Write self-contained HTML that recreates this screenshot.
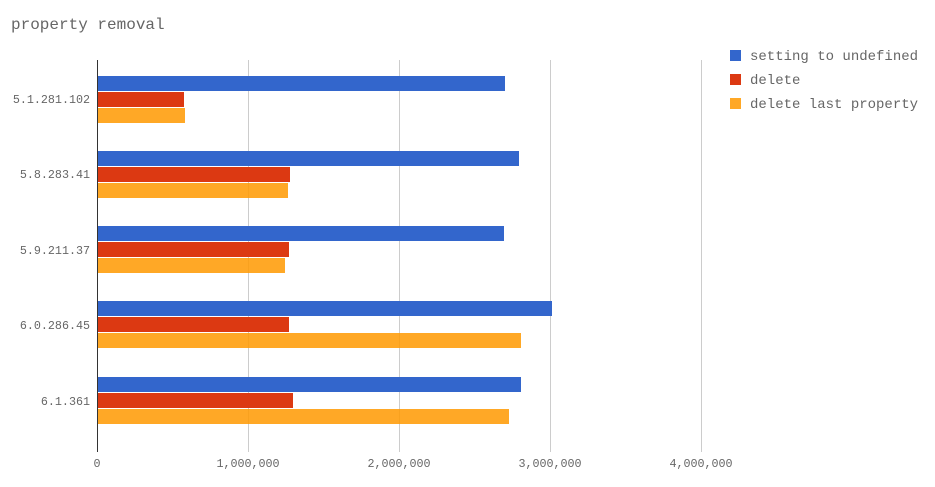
<!DOCTYPE html>
<html><head><style>body{margin:0;background:#fff}svg{display:block}text{font-family:"Liberation Mono",monospace;fill:#666}</style></head><body>
<svg width="935" height="487" xmlns="http://www.w3.org/2000/svg">
<text x="11" y="29" font-size="16" fill="#666">property removal</text>
<g stroke="#ccc" stroke-width="1">
<line x1="248.5" y1="60" x2="248.5" y2="452"/>
<line x1="399.5" y1="60" x2="399.5" y2="452"/>
<line x1="550.5" y1="60" x2="550.5" y2="452"/>
<line x1="701.5" y1="60" x2="701.5" y2="452"/>
</g>
<g>
<rect x="97" y="76" width="408" height="15" fill="#3366cc"/>
<rect x="97" y="92" width="87" height="15" fill="#dc3912"/>
<rect x="97" y="108" width="88" height="15" fill="#ff9900" opacity="0.85"/>
<rect x="97" y="151" width="422" height="15" fill="#3366cc"/>
<rect x="97" y="167" width="193" height="15" fill="#dc3912"/>
<rect x="97" y="183" width="191" height="15" fill="#ff9900" opacity="0.85"/>
<rect x="97" y="226" width="407" height="15" fill="#3366cc"/>
<rect x="97" y="242" width="192" height="15" fill="#dc3912"/>
<rect x="97" y="258" width="188" height="15" fill="#ff9900" opacity="0.85"/>
<rect x="97" y="301" width="455" height="15" fill="#3366cc"/>
<rect x="97" y="317" width="192" height="15" fill="#dc3912"/>
<rect x="97" y="333" width="424" height="15" fill="#ff9900" opacity="0.85"/>
<rect x="97" y="377" width="424" height="15" fill="#3366cc"/>
<rect x="97" y="393" width="196" height="15" fill="#dc3912"/>
<rect x="97" y="409" width="412" height="15" fill="#ff9900" opacity="0.85"/>
</g>
<line x1="97.5" y1="60" x2="97.5" y2="452" stroke="#333" stroke-width="1"/>
<g font-size="11.7" text-anchor="end">
<text x="90" y="103">5.1.281.102</text>
<text x="90" y="178">5.8.283.41</text>
<text x="90" y="254">5.9.211.37</text>
<text x="90" y="329">6.0.286.45</text>
<text x="90" y="405">6.1.361</text>
</g>
<g font-size="11.7" text-anchor="middle">
<text x="97" y="467">0</text>
<text x="248" y="467">1,000,000</text>
<text x="399" y="467">2,000,000</text>
<text x="550" y="467">3,000,000</text>
<text x="701" y="467">4,000,000</text>
</g>
<rect x="730" y="50" width="11" height="11" fill="#3366cc"/>
<rect x="730" y="74" width="11" height="11" fill="#dc3912"/>
<rect x="730" y="98" width="11" height="11" fill="#ff9900" opacity="0.85"/>
<g font-size="14">
<text x="750" y="60">setting to undefined</text>
<text x="750" y="84">delete</text>
<text x="750" y="108">delete last property</text>
</g>
</svg>
</body></html>
